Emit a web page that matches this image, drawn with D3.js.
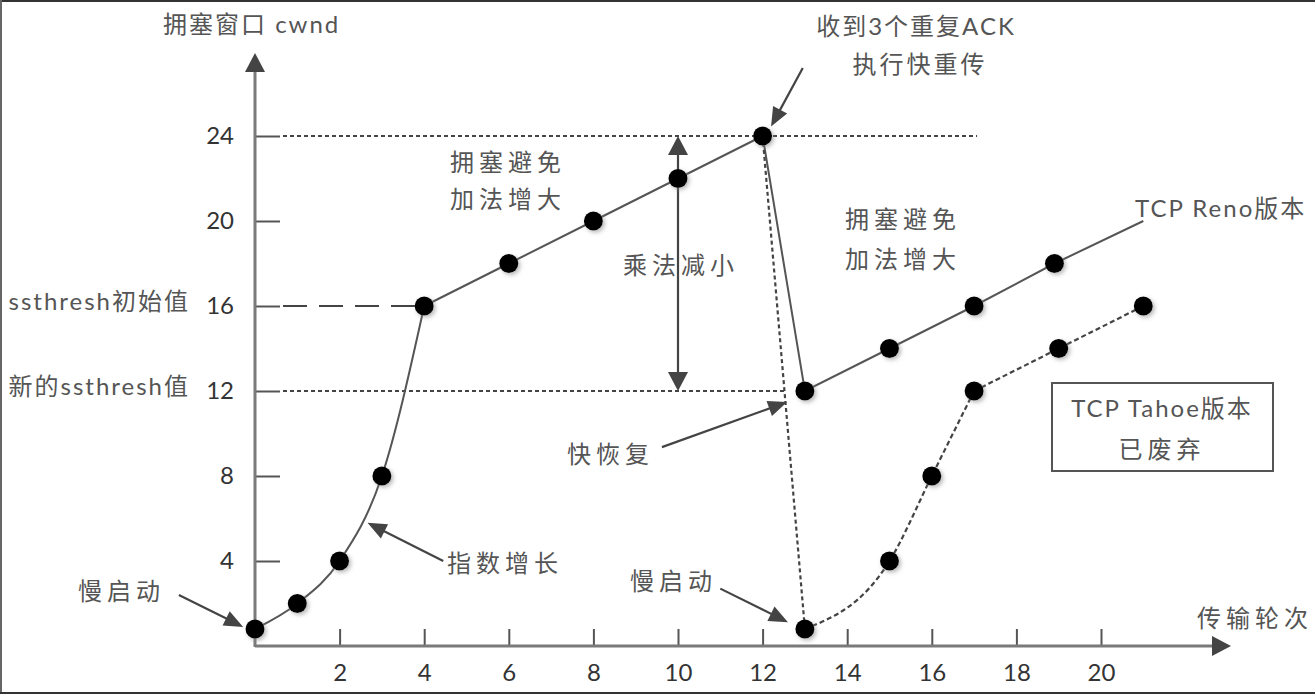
<!DOCTYPE html>
<html><head><meta charset="utf-8">
<script src="https://cdn.jsdelivr.net/npm/d3@7/dist/d3.min.js"></script>
<style>
html,body{margin:0;padding:0;background:#fff;}
svg{display:block;}
text{font-family:"Lato","Noto Sans CJK SC",sans-serif;}
</style></head>
<body><svg id="c" width="1315" height="694"></svg>
<script>
// ---- data ----
const xTicks = [2,4,6,8,10,12,14,16,18,20];
const yTicks = [4,8,12,16,20,24];
const slowRounds = [0,1,2,3,4];
const slowCwnd   = [0.8,2,4,8,16];
const avoidRounds = [4,6,8,10,12];
const avoidCwnd   = [16,18,20,22,24];
const renoRounds = [12,13,15,17,18.9,21];
const renoCwnd   = [24,12,14,16,18,20];
const renoDotRounds = [13,15,17,18.9];
const renoDotCwnd   = [12,14,16,18];
const tahoeDropRounds = [12,13];
const tahoeDropCwnd   = [24,0.8];
const tahoeSlowRounds = [13,15,16,17];
const tahoeSlowCwnd   = [0.8,4,8,12];
const tahoeAvoidRounds = [17,19,21];
const tahoeAvoidCwnd   = [12,14,16];
const refLevels = [24,16,12];
const refEnds   = [17.07,4,12.53];

const svg = d3.select("#c");
const x = d3.scaleLinear().domain([0,20]).range([255,1101]);
const y = d3.scaleLinear().domain([0,24]).range([646,136]);
const ink = "#555", axisC = "#7a7a7a", headC = "#444";

// frame
svg.append("line").attr("x1",0).attr("x2",1315).attr("y1",1).attr("y2",1).attr("stroke","#333").attr("stroke-width",2);
svg.append("line").attr("x1",1).attr("x2",1).attr("y1",0).attr("y2",694).attr("stroke","#666").attr("stroke-width",2);
svg.append("line").attr("x1",0).attr("x2",1315).attr("y1",693).attr("y2",693).attr("stroke","#333").attr("stroke-width",2);

const defs = svg.append("defs");
const f = defs.append("filter").attr("id","sh").attr("x","-50%").attr("y","-50%").attr("width","200%").attr("height","200%");
f.append("feDropShadow").attr("dx",2).attr("dy",2).attr("stdDeviation",2).attr("flood-color","#888").attr("flood-opacity",0.6);

function head(x1,y1,x2,y2,len=19,w=10){
  const a = Math.atan2(y2-y1,x2-x1);
  const bx = x2-len*Math.cos(a), by = y2-len*Math.sin(a);
  const px = -Math.sin(a)*w, py = Math.cos(a)*w;
  svg.append("path").attr("d",`M${x2},${y2}L${bx+px},${by+py}L${bx-px},${by-py}Z`).attr("fill",headC);
}
function arrow(p, q){
  const x1=x(p[0]),y1=y(p[1]),x2=x(q[0]),y2=y(q[1]);
  const a=Math.atan2(y2-y1,x2-x1);
  svg.append("line").attr("x1",x1).attr("y1",y1).attr("x2",x2-12*Math.cos(a)).attr("y2",y2-12*Math.sin(a))
    .attr("stroke",headC).attr("stroke-width",2.2);
  head(x1,y1,x2,y2,19,8);
}

// axes
const xAxis = d3.axisBottom(x).tickValues(xTicks).tickSize(-17).tickPadding(0).tickFormat(d3.format("d"));
const gx = svg.append("g").attr("transform",`translate(0,${y(0)})`).call(xAxis);
gx.select(".domain").remove();
gx.selectAll(".tick line").attr("stroke","#555").attr("stroke-width",2);
gx.selectAll(".tick text").attr("y",27).attr("dy","0.32em").attr("font-size",24).attr("fill","#333").attr("font-family","Lato");
const yAxis = d3.axisLeft(y).tickValues(yTicks).tickSize(-25).tickPadding(0).tickFormat(d3.format("d"));
const gy = svg.append("g").attr("transform",`translate(${x(0)},0)`).call(yAxis);
gy.select(".domain").remove();
gy.selectAll(".tick line").attr("stroke","#555").attr("stroke-width",2);
gy.selectAll(".tick text").attr("x",-21).attr("font-size",24).attr("fill","#333").attr("font-family","Lato");

svg.append("line").attr("x1",x(0)).attr("x2",1215).attr("y1",y(0)).attr("y2",y(0)).attr("stroke",axisC).attr("stroke-width",3);
head(x(0),y(0),1231,y(0),19,10);
svg.append("line").attr("x1",x(0)).attr("x2",x(0)).attr("y1",y(0)+1).attr("y2",72).attr("stroke",axisC).attr("stroke-width",3);
head(x(0),y(0),x(0),53,19,10);

// reference lines
refLevels.forEach((lv,i)=>{
  svg.append("line").attr("x1",x(0)+28).attr("x2",x(refEnds[i])).attr("y1",y(lv)).attr("y2",y(lv))
    .attr("stroke", "#444").attr("stroke-width",2)
    .attr("stroke-dasharray", lv===16 ? "24,12" : "4,3");
});

// lines
const line = d3.line().x(d=>x(d[0])).y(d=>y(d[1]));
const curve = d3.line().x(d=>x(d[0])).y(d=>y(d[1])).curve(d3.curveMonotoneX);
const zip=(a,b)=>a.map((v,i)=>[v,b[i]]);
svg.append("path").attr("d",curve(zip(slowRounds,slowCwnd))).attr("fill","none").attr("stroke",ink).attr("stroke-width",2);
svg.append("path").attr("d",line(zip(avoidRounds,avoidCwnd))).attr("fill","none").attr("stroke",ink).attr("stroke-width",2);
svg.append("path").attr("d",line(zip(renoRounds,renoCwnd))).attr("fill","none").attr("stroke",ink).attr("stroke-width",2);
svg.append("path").attr("d",line(zip(tahoeDropRounds,tahoeDropCwnd))).attr("fill","none").attr("stroke","#444").attr("stroke-width",2.2).attr("stroke-dasharray","4,3");
svg.append("path").attr("d",curve(zip(tahoeSlowRounds,tahoeSlowCwnd))).attr("fill","none").attr("stroke","#444").attr("stroke-width",2.2).attr("stroke-dasharray","5,3");
svg.append("path").attr("d",line(zip(tahoeAvoidRounds,tahoeAvoidCwnd))).attr("fill","none").attr("stroke","#444").attr("stroke-width",2.2).attr("stroke-dasharray","5,3");

// double arrow (multiplicative decrease)
svg.append("line").attr("x1",x(10)).attr("x2",x(10)).attr("y1",y(24)+15).attr("y2",y(12)-15).attr("stroke",headC).attr("stroke-width",2.2);
head(x(10),y(12),x(10),y(24),19,10);
head(x(10),y(24),x(10),y(12),19,10);

// dots
const dots = [].concat(zip(slowRounds,slowCwnd), zip(avoidRounds.slice(1),avoidCwnd.slice(1)),
  zip(renoDotRounds,renoDotCwnd), zip(tahoeSlowRounds,tahoeSlowCwnd), zip(tahoeAvoidRounds.slice(1),tahoeAvoidCwnd.slice(1)));
svg.selectAll("circle.dot").data(dots).join("circle").attr("class","dot")
  .attr("cx",d=>x(d[0])).attr("cy",d=>y(d[1])).attr("r",9.5).attr("fill","#000").attr("filter","url(#sh)");

// annotation arrows (data coords)
arrow([12.95,27.2],[12.2,24.45]);
arrow([4.45,4.0],[2.66,5.8]);
arrow([-1.8,2.4],[-0.28,0.9]);
arrow([9.62,9.36],[12.58,11.48]);
arrow([11.0,2.7],[12.6,1.12]);

// texts
function label(t, px, py, anchor="start", size=24, fill="#555", ls=2){
  svg.append("text").attr("x",px).attr("y",py).attr("text-anchor",anchor).attr("dominant-baseline","central")
    .attr("font-size",size).attr("fill",fill).attr("letter-spacing",ls).text(t);
}
label("拥塞窗口 cwnd",163,23);
label("收到3个重复ACK",916,25,"middle");
label("执行快重传",920,63,"middle",24,"#555",3);
label("拥塞避免",450,161,"start",24,"#555",5);
label("加法增大",450,198,"start",24,"#555",5);
label("乘法减小",623,264,"start",24,"#555",5);
label("拥塞避免",845,218,"start",24,"#555",5);
label("加法增大",845,258,"start",24,"#555",5);
label("TCP Reno版本",1135,207);
label("ssthresh初始值",190,300,"end");
label("新的ssthresh值",190,385,"end");
label("快恢复",567,453,"start",24,"#555",5);
label("慢启动",630,580,"start",24,"#555",5);
label("指数增长",447,562,"start",24,"#555",5);
label("慢启动",78,590,"start",24,"#555",5);
label("传输轮次",1197,617,"start",24,"#555",5);
svg.append("rect").attr("x",1052).attr("y",383).attr("width",221).attr("height",88).attr("fill","none").attr("stroke","#555").attr("stroke-width",2);
label("TCP Tahoe版本",1162,407,"middle");
label("已废弃",1162,448,"middle",24,"#555",5);
</script></body></html>
